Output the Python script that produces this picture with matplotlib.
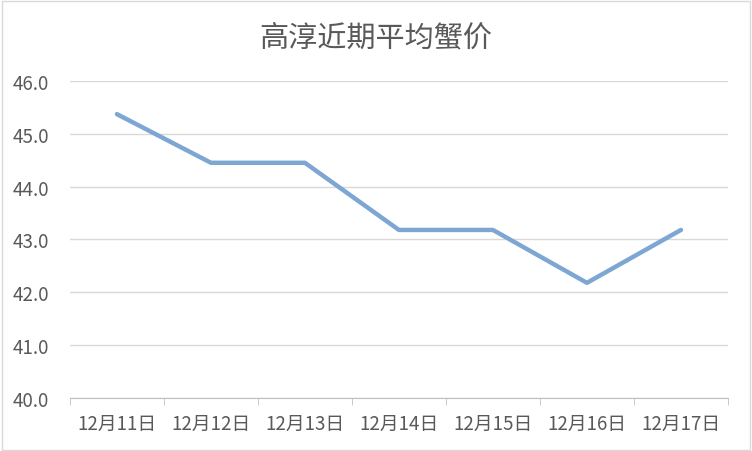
import matplotlib.pyplot as plt
from matplotlib.patches import Rectangle

plt.rcParams['font.family'] = ['Noto Sans CJK SC', 'DejaVu Sans']

dates = ["12月11日", "12月12日", "12月13日", "12月14日", "12月15日", "12月16日", "12月17日"]
prices = [45.37, 44.45, 44.45, 43.18, 43.18, 42.18, 43.18]
title = "高淳近期平均蟹价"

fig = plt.figure(figsize=(7.52, 4.52), dpi=100)
ax = fig.add_axes([0.093, 0.117, 0.875, 0.702])

x = list(range(len(dates)))
ax.plot(x, prices, color="#7EA6D3", lw=3.2, solid_capstyle="round", zorder=3)

ax.set_xlim(-0.5, len(dates) - 0.5)
ax.set_ylim(40, 46)
ax.set_yticks([40, 41, 42, 43, 44, 45, 46])
ax.set_yticklabels([f"{v:.1f}" for v in range(40, 47)])
ax.yaxis.grid(True, color="#D9D9D9", lw=1)
ax.set_axisbelow(True)

ax.set_xticks(x)
ax.set_xticklabels(dates)
ax.set_xticks([i - 0.5 for i in range(len(dates) + 1)], minor=True)
ax.tick_params(axis="x", which="major", length=0, pad=11, labelsize=13.5, labelcolor="#595959")
ax.tick_params(axis="x", which="minor", length=5, color="#BFBFBF", direction="out")
ax.tick_params(axis="y", length=0, pad=15, labelsize=13.5, labelcolor="#595959")

for s in ["top", "right", "left"]:
    ax.spines[s].set_visible(False)
ax.spines["bottom"].set_color("#BFBFBF")

fig.text(0.5, 0.915, title, ha="center", va="center", fontsize=21, color="#595959")
fig.patches.append(Rectangle((0.002, 0.003), 0.995, 0.993, transform=fig.transFigure,
                             fill=False, edgecolor="#D9D9D9", lw=1))

fig.savefig("out.png", dpi=100)
